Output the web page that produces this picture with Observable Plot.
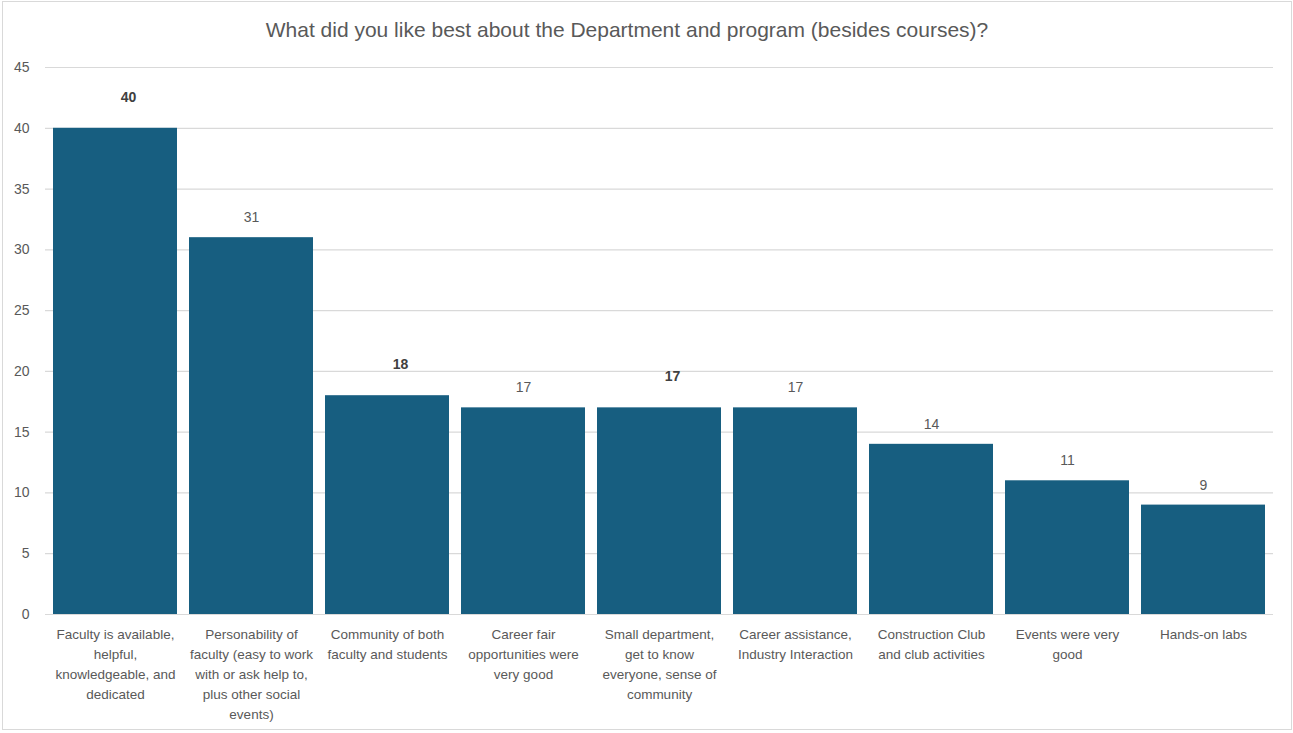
<!DOCTYPE html>
<html>
<head>
<meta charset="utf-8">
<script src="https://cdn.jsdelivr.net/npm/d3@7"></script>
<script src="https://cdn.jsdelivr.net/npm/@observablehq/plot@0.6"></script>
<style>
  html, body { margin: 0; padding: 0; background: #ffffff; }
  #frame {
    position: absolute; left: 2px; top: 1px; width: 1290px; height: 729px;
    box-sizing: border-box; border: 1px solid #d9d9d9; background: #fff; overflow: hidden;
  }
  #title {
    height: 48px; box-sizing: border-box; padding-top: 15px; padding-right: 40px;
    text-align: center; font-family: "Liberation Sans", Arial, sans-serif;
    font-size: 21px; line-height: 1.2; color: #595959; white-space: nowrap;
  }
  svg { display: block; }
</style>
</head>
<body>
<div id="frame">
  <div id="title">What did you like best about the Department and program (besides courses)?</div>
  <div id="chart"></div>
</div>
<script>
const categories = [
  "Faculty is available, helpful, knowledgeable, and dedicated",
  "Personability of faculty (easy to work with or ask help to, plus other social events)",
  "Community of both faculty and students",
  "Career fair opportunities were very good",
  "Small department, get to know everyone, sense of community",
  "Career assistance, Industry Interaction",
  "Construction Club and club activities",
  "Events were very good",
  "Hands-on labs"
];
const tickLabels = [
  "Faculty is available,\nhelpful,\nknowledgeable, and\ndedicated",
  "Personability of\nfaculty (easy to work\nwith or ask help to,\nplus other social\nevents)",
  "Community of both\nfaculty and students",
  "Career fair\nopportunities were\nvery good",
  "Small department,\nget to know\neveryone, sense of\ncommunity",
  "Career assistance,\nIndustry Interaction",
  "Construction Club\nand club activities",
  "Events were very\ngood",
  "Hands-on labs"
];
const values = [40, 31, 18, 17, 17, 17, 14, 11, 9];
const boldLabel = [true, false, true, false, true, false, false, false, false];
const yTicks = [0, 5, 10, 15, 20, 25, 30, 35, 40, 45];

const data = categories.map((c, i) => ({category: c, value: values[i], bold: boldLabel[i]}));
const font = "'Liberation Sans', Arial, sans-serif";

const chart = Plot.plot({
  width: 1288,
  height: 679,
  marginTop: 17,
  marginLeft: 42,
  marginRight: 18,
  marginBottom: 115,
  style: {fontFamily: font, fontSize: "13.5px", color: "#595959", background: "transparent"},
  x: {domain: categories, paddingInner: 0.09, paddingOuter: 0.05, label: null},
  y: {domain: [0, 45], label: null},
  marks: [
    Plot.gridY(yTicks, {stroke: "#d9d9d9", strokeOpacity: 1, strokeWidth: 1.2}),
    Plot.barY(data, {x: "category", y: "value", fill: "#175e80"}),
    Plot.ruleY([0], {stroke: "#d9d9d9", strokeWidth: 1.2}),
    Plot.text(data.filter(d => !d.bold), {x: "category", y: "value", text: d => String(d.value), dy: -20, fill: "#595959", fontSize: 14}),
    Plot.text(data.filter(d => d.bold), {x: "category", y: "value", text: d => String(d.value), dx: 13, dy: -31, fill: "#404040", fontSize: 14, fontWeight: "bold"}),
    Plot.axisX({tickSize: 0, tickPadding: 10, tickFormat: c => tickLabels[categories.indexOf(c)], lineHeight: 1.48, fontSize: 13.5, fill: "#595959", label: null}),
    Plot.axisY(yTicks, {tickSize: 0, tickPadding: 16, fontSize: 14, fill: "#595959", label: null})
  ]
});
document.getElementById("chart").appendChild(chart);
</script>
</body>
</html>
